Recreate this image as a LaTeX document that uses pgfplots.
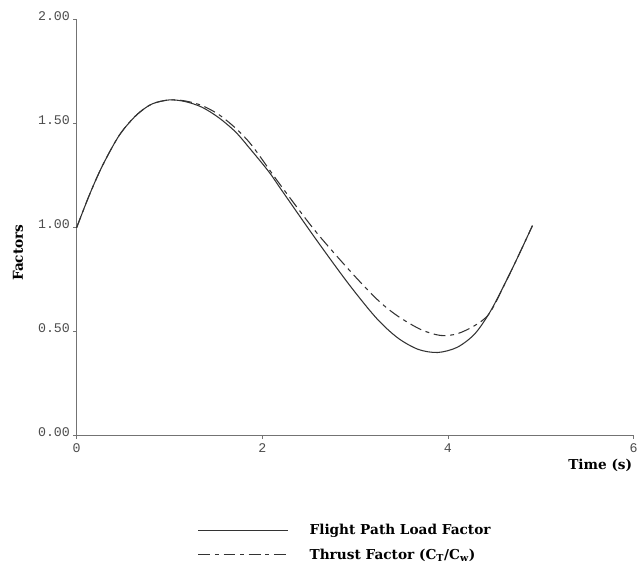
\documentclass[border=0pt]{standalone}
\usepackage{fontspec}
\setmainfont{DejaVu Serif}
\setmonofont{Liberation Mono}
\usepackage{pgfplots}
\pgfplotsset{compat=1.18}
\begin{document}
\begin{tikzpicture}
\begin{axis}[
  scale only axis,
  width=420pt, height=313.5pt,
  xmin=0, xmax=6, ymin=0, ymax=2,
  axis x line=bottom, axis y line=left,
  axis line style={draw=black!55, line width=0.8pt, -},
  xtick={0,2,4,6}, ytick={0,0.5,1,1.5,2},
  xticklabels={0,2,4,6},
  yticklabels={0.00,0.50,1.00,1.50,2.00},
  tick align=outside,
  major tick length=2.5pt,
  tick style={draw=black!55, line width=0.6pt},
  ticklabel style={font=\fontsize{10}{12}\selectfont\ttfamily, text=black!70},
  /pgf/number format/assume math mode=true,
  xticklabel style={yshift=0pt},
  yticklabel style={xshift=1pt, anchor=south east, yshift=-4pt},
  xlabel={\bfseries Time (s)},
  xlabel style={at={(axis description cs:0.94,-0.072)}, anchor=center, font=\fontsize{10.3}{12}\selectfont},
  ylabel={\bfseries Factors},
  ylabel style={at={(axis description cs:-0.105,0.44)}, anchor=center, rotate=0, font=\fontsize{10.3}{12}\selectfont},
  clip=false,
  legend style={at={(rel axis cs:0.21,-0.2)}, anchor=north west, draw=none, fill=none,
    font=\fontsize{10.3}{12}\selectfont\bfseries, row sep=5pt, column sep=0pt},
  legend cell align=left,
  legend image code/.code={\draw[#1] (0pt,0pt) -- (67.5pt,0pt);},
]
\addplot[black!80, line width=0.8pt, smooth] coordinates {
(0,1.00) (0.14,1.16) (0.28,1.30) (0.46,1.445) (0.64,1.54) (0.81,1.595) (1.0,1.615)
(1.17,1.607) (1.35,1.58) (1.53,1.53) (1.71,1.462) (1.85,1.39) (2.07,1.27) (2.21,1.18)
(2.57,0.95) (2.93,0.73) (3.23,0.565) (3.46,0.47) (3.68,0.415) (3.89,0.40) (4.10,0.425)
(4.29,0.49) (4.46,0.60) (4.64,0.755) (4.78,0.885) (4.91,1.01)
};
\addlegendentry{\hspace{14pt}Flight Path Load Factor}
\addplot[black!80, line width=0.8pt, smooth, dash pattern=on 9pt off 3.5pt on 3pt off 3.5pt] coordinates {
(0,1.00) (0.14,1.16) (0.28,1.30) (0.46,1.445) (0.64,1.54) (0.81,1.595) (1.0,1.615)
(1.17,1.61) (1.35,1.588) (1.53,1.545) (1.71,1.48) (1.89,1.395) (2.18,1.215)
(2.57,0.985) (2.96,0.785) (3.25,0.65) (3.46,0.575) (3.71,0.51) (3.92,0.482) (4.10,0.49)
(4.29,0.53) (4.45,0.59) (4.64,0.755) (4.78,0.885) (4.91,1.01)
};
\addlegendentry{\hspace{14pt}Thrust Factor (C\textsubscript{T}/C\textsubscript{w})}
\path[draw=none] (rel axis cs:-0.1375,-0.3158) rectangle (rel axis cs:1.0089,1.0478);
\end{axis}
\end{tikzpicture}
\end{document}
